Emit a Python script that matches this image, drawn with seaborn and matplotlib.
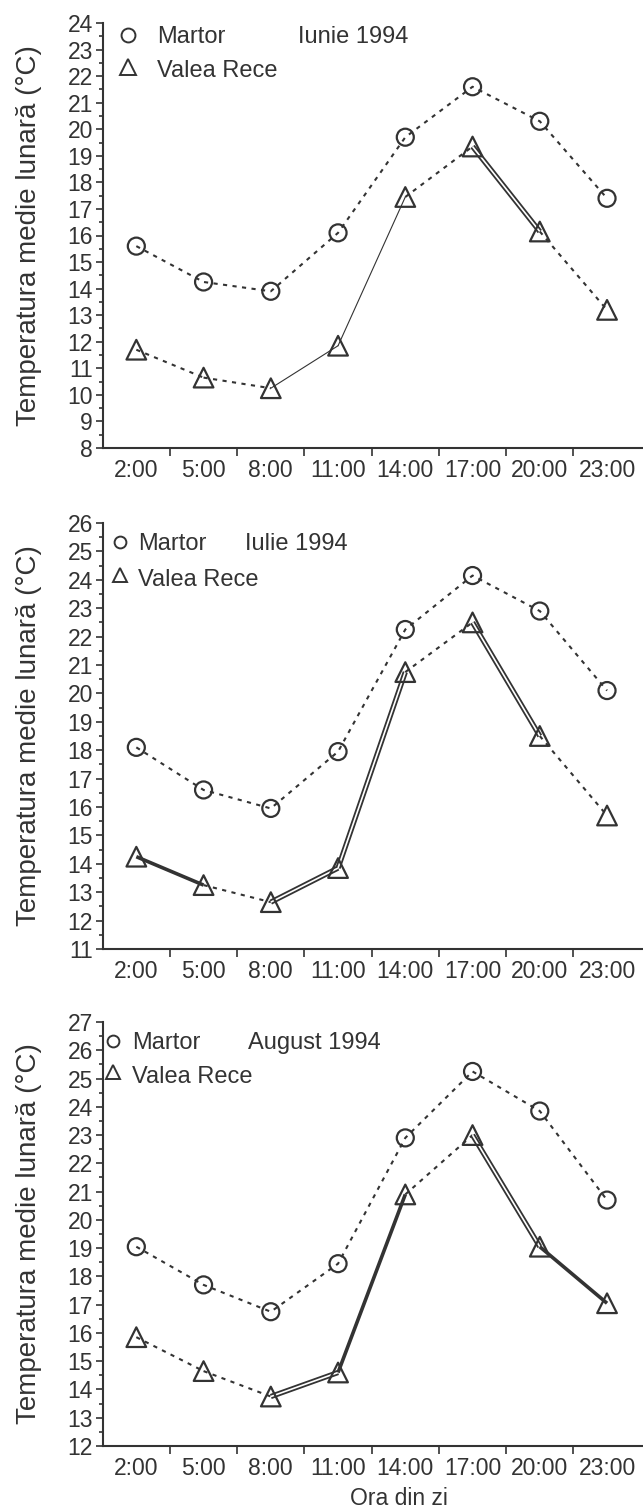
import numpy as np
import pandas as pd
import matplotlib
matplotlib.use("Agg")
import matplotlib.pyplot as plt
import seaborn as sns
from matplotlib.ticker import MultipleLocator, FixedLocator

# ---------------- data ----------------
hours = ["2:00", "5:00", "8:00", "11:00", "14:00", "17:00", "20:00", "23:00"]
months = ["Iunie 1994", "Iulie 1994", "August 1994"]

martor_iun = [15.6, 14.25, 13.9, 16.1, 19.7, 21.6, 20.3, 17.4]
valea_iun = [11.7, 10.65, 10.25, 11.85, 17.45, 19.35, 16.15, 13.2]

martor_iul = [18.1, 16.6, 15.95, 17.95, 22.25, 24.15, 22.9, 20.1]
valea_iul = [14.25, 13.25, 12.65, 13.85, 20.75, 22.5, 18.5, 15.7]

martor_aug = [19.05, 17.7, 16.75, 18.45, 22.9, 25.25, 23.85, 20.7]
valea_aug = [15.85, 14.65, 13.75, 14.6, 20.9, 23.0, 19.05, 17.05]

# line type of each Valea Rece segment (between consecutive hours)
seg_iun = ["dot", "dot", "thin", "thin", "dot", "double", "dot"]
seg_iul = ["thick", "dot", "double", "double", "dot", "double", "dot"]
seg_aug = ["dot", "dot", "double", "thick", "dot", "double", "thick"]

y_limits = [(8, 24), (11, 26), (12, 27)]

series_labels = ["Martor", "Valea Rece"]
ylabel = "Temperatura medie lunară (°C)"
xlabel = "Ora din zi"

# ---------------- style ----------------
sns.set_theme(style="ticks")
plt.rcParams["font.family"] = ["Liberation Sans", "DejaVu Sans"]
INK = "#333333"
plt.rcParams["text.color"] = INK
plt.rcParams["axes.labelcolor"] = INK
plt.rcParams["xtick.color"] = INK
plt.rcParams["ytick.color"] = INK

fig = plt.figure(figsize=(6.43, 15.10), dpi=100)
W, H = 643.0, 1510.0
left_px = 102.7
panels_px = [(23, 448), (523, 949), (1022, 1446)]

dot_ls = (0, (2.0, 2.6))

datasets = [
    (martor_iun, valea_iun, seg_iun),
    (martor_iul, valea_iul, seg_iul),
    (martor_aug, valea_aug, seg_aug),
]

# legend / title placement (axes fractions)
legend_cfg = [
    dict(mx=0.047, tx=0.100, y1=0.972, y2=0.893, ms1=10, ms2=11, title_x=0.362),
    dict(mx=0.032, tx=0.066, y1=0.956, y2=0.873, ms1=8.5, ms2=10, title_x=0.264),
    dict(mx=0.020, tx=0.054, y1=0.956, y2=0.877, ms1=8.5, ms2=10, title_x=0.269),
]

for i, ((top, bot), (mv, vv, segs)) in enumerate(zip(panels_px, datasets)):
    ax = fig.add_axes([left_px / W, 1 - bot / H, (W - left_px - 1) / W, (bot - top) / H])
    xs = np.arange(len(hours))
    df = pd.DataFrame({"x": xs, "martor": mv, "valea": vv})

    # Martor: dotted line
    sns.lineplot(data=df, x="x", y="martor", ax=ax, color=INK, lw=1.5,
                 linestyle=dot_ls, legend=False)
    # Valea Rece segments
    for k, st in enumerate(segs):
        seg = df.iloc[k:k + 2]
        if st == "dot":
            sns.lineplot(data=seg, x="x", y="valea", ax=ax, color=INK, lw=1.5,
                         linestyle=dot_ls, legend=False)
        elif st == "thin":
            sns.lineplot(data=seg, x="x", y="valea", ax=ax, color=INK, lw=0.8,
                         legend=False)
        elif st == "thick":
            sns.lineplot(data=seg, x="x", y="valea", ax=ax, color=INK, lw=2.6,
                         legend=False, solid_capstyle="butt")
        elif st == "double":
            sns.lineplot(data=seg, x="x", y="valea", ax=ax, color=INK, lw=3.8,
                         legend=False, solid_capstyle="butt")
            sns.lineplot(data=seg, x="x", y="valea", ax=ax, color="white", lw=1.2,
                         legend=False, solid_capstyle="butt")
    # markers
    sns.scatterplot(data=df, x="x", y="martor", ax=ax, marker="o", s=150,
                    facecolor="none", edgecolor=INK, linewidth=1.6, zorder=5)
    sns.scatterplot(data=df, x="x", y="valea", ax=ax, marker="^", s=200,
                    facecolor="none", edgecolor=INK, linewidth=1.6, zorder=5)

    ax.set_xlim(-0.5, 7.52)
    ax.set_ylim(*y_limits[i])
    ax.set_ylabel(ylabel, fontsize=20)
    ax.yaxis.set_label_coords(-0.112, 0.5)
    if i == 2:
        ax.set_xlabel(xlabel, fontsize=16.5)
        ax.xaxis.set_label_coords(0.55, -0.096)
    else:
        ax.set_xlabel("")

    ax.xaxis.set_major_locator(FixedLocator(xs))
    ax.set_xticklabels(hours)
    ax.xaxis.set_minor_locator(FixedLocator(xs[:-1] + 0.5))
    ax.tick_params(axis="x", which="major", length=0, labelsize=16.5, pad=8)
    ax.tick_params(axis="x", which="minor", length=6, width=1.2, direction="out")

    ax.yaxis.set_major_locator(MultipleLocator(1))
    ax.yaxis.set_minor_locator(MultipleLocator(0.5))
    ax.tick_params(axis="y", which="major", length=5, width=1.2, labelsize=16.5, pad=2)
    ax.tick_params(axis="y", which="minor", length=3, width=1.2)

    sns.despine(ax=ax)
    for sp in ("left", "bottom"):
        ax.spines[sp].set_linewidth(1.5)
        ax.spines[sp].set_color(INK)

    # legend drawn as marker + text pairs
    cfg = legend_cfg[i]
    ax.plot([cfg["mx"]], [cfg["y1"]], transform=ax.transAxes, marker="o", ls="none",
            mfc="none", mec=INK, mew=1.4, ms=cfg["ms1"], clip_on=False)
    ax.plot([cfg["mx"]], [cfg["y2"] + 0.004], transform=ax.transAxes, marker="^", ls="none",
            mfc="none", mec=INK, mew=1.4, ms=cfg["ms2"], clip_on=False)
    ax.text(cfg["tx"], cfg["y1"], series_labels[0], transform=ax.transAxes, fontsize=17,
            ha="left", va="center_baseline")
    ax.text(cfg["tx"], cfg["y2"], series_labels[1], transform=ax.transAxes, fontsize=17,
            ha="left", va="center_baseline")
    ax.text(cfg["title_x"], cfg["y1"], months[i], transform=ax.transAxes, fontsize=17,
            ha="left", va="center_baseline")

fig.savefig("out.png", dpi=100)
